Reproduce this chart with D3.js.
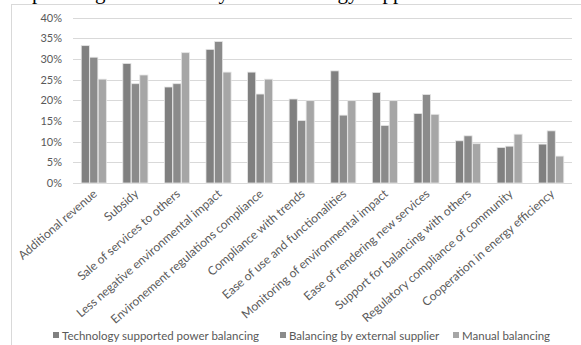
<!DOCTYPE html>
<html><head><meta charset="utf-8">
<script src="https://cdn.jsdelivr.net/npm/d3@7"></script>
<style>html,body{margin:0;padding:0;background:#fff;overflow:hidden}</style>
</head><body>
<svg id="c" width="581" height="345"></svg>
<script>
const categories = ["Additional revenue","Subsidy","Sale of services to others","Less negative environmental impact","Environement regulations compliance","Compliance with trends","Ease of use and functionalities","Monitoring of environmental impact","Ease of rendering new services","Support for balancing with others","Regulatory compliance of community","Cooperation in energy efficiency"];
const seriesNames = ["Technology supported power balancing","Balancing by external supplier","Manual balancing"];
const techSupported = [33.2,28.9,23.2,32.3,26.8,20.3,27.1,21.9,16.8,10.2,8.6,9.4];
const externalSupplier = [30.4,24.0,24.0,34.2,21.5,15.1,16.4,13.9,21.4,11.4,8.9,12.6];
const manualBalancing = [25.1,26.1,31.5,26.8,25.1,19.9,19.9,19.9,16.6,9.5,11.8,6.5];
const yTicks = [0,5,10,15,20,25,30,35,40];
const colors = ["#808080","#8b8b8b","#a6a6a6"];
const series = [techSupported, externalSupplier, manualBalancing];

const svg = d3.select("#c");
const font = "Lato, 'Open Sans', sans-serif";
const txtCol = "#595959";

// cut-off caption line above the chart
const cap = svg.append("text").attr("y", -1.5).attr("font-family","'Liberation Serif', serif").attr("font-size",21).attr("fill","#000");
cap.append("tspan").attr("x",32).text("planning the tools");
cap.append("tspan").attr("x",208).text("by the technology supported");

// chart frame
svg.append("rect").attr("x",11.5).attr("y",4.5).attr("width",600).attr("height",400)
  .attr("fill","#fff").attr("stroke","#d9d9d9");

const x0 = d3.scaleBand().domain(categories).range([73,572]).padding(0);
const x1 = d3.scaleBand().domain(d3.range(3)).range([x0.bandwidth()*0.19, x0.bandwidth()*0.81]).padding(0.04);
const y = d3.scaleLinear().domain([0,40]).range([183,17.5]);

// gridlines
svg.append("g").selectAll("line").data(yTicks).join("line")
  .attr("x1",73).attr("x2",572).attr("y1",d=>Math.round(y(d))+0.5).attr("y2",d=>Math.round(y(d))+0.5)
  .attr("stroke","#d9d9d9").attr("stroke-width",1);

// y axis labels
const yAxis = svg.append("g").attr("transform","translate(62,0)")
  .call(d3.axisLeft(y).tickValues(yTicks).tickFormat(d=>d+"%").tickSize(0).tickPadding(0));
yAxis.select(".domain").remove();
yAxis.selectAll("text").attr("font-family",font).attr("font-size",11).attr("fill",txtCol);

// bars
const g = svg.append("g");
series.forEach((vals,si)=>{
  g.selectAll(null).data(vals).join("rect")
    .attr("x",(d,i)=>x0(categories[i])+x1(si))
    .attr("width",x1.bandwidth())
    .attr("y",d=>y(d))
    .attr("height",d=>y(0)-y(d))
    .attr("fill",colors[si]).attr("stroke","#e6e6e6").attr("stroke-width",0.8);
});

// x labels
svg.append("g").selectAll("text").data(categories).join("text")
  .attr("transform",d=>`translate(${x0(d)+x0.bandwidth()/2+4},${195}) rotate(-41)`)
  .attr("text-anchor","end").attr("font-family",font).attr("font-size",12)
  .attr("fill",txtCol)
  .text(d=>d);

// legend
const leg = svg.append("g");
const legX = [53, 280, 453];
seriesNames.forEach((n,i)=>{
  leg.append("rect").attr("x",legX[i]).attr("y",332).attr("width",6).attr("height",6).attr("fill",colors[i]);
  leg.append("text").attr("x",legX[i]+9).attr("y",339.5).attr("font-family",font).attr("font-size",11.5).attr("fill",txtCol).text(n);
});
</script>
</body></html>
